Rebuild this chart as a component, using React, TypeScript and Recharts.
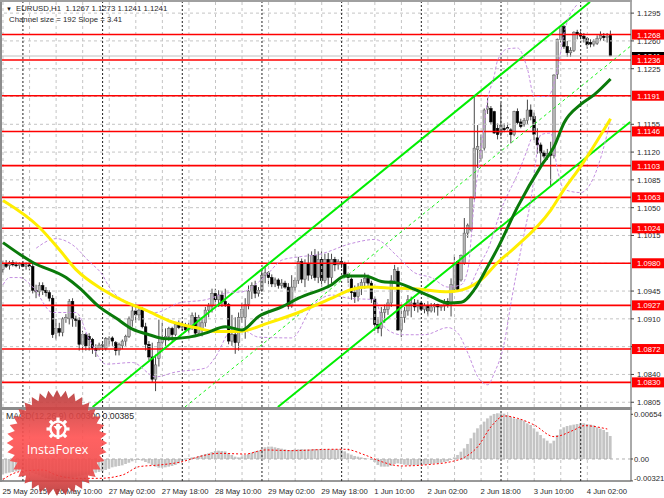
import React from "react";
import { ComposedChart, Bar, Line, XAxis, YAxis, ReferenceLine } from "recharts";

// Prices are in pips (1.1268 => 11268). Each bar: [open, high, low, close]
const barsA = [
[10972,10983,10968,10980],[10980,10984,10974,10976],[10977,10983,10972,10981],[10981,10984,10976,10978],[10978,10982,10975,10977],
[10977,10981,10973,10979],[10979,10982,10975,10976],[10976,10981,10972,10978],[10978,10982,10971,10976],[10976,10980,10942,10946],
[10946,10953,10936,10944],[10944,10956,10938,10952],[10952,10956,10940,10946],[10946,10950,10938,10943],[10943,10946,10932,10936],
[10936,10940,10886,10890],[10892,10910,10884,10898],[10898,10905,10888,10893],[10893,10912,10888,10910],[10910,10916,10905,10912],
[10910,10935,10903,10932],[10932,10936,10900,10910],[10910,10914,10900,10908],[10908,10912,10870,10878],[10878,10895,10868,10890],
[10890,10892,10870,10876],[10888,10892,10870,10884],[10884,10886,10866,10873],[10873,10878,10862,10870],[10872,10880,10870,10877],
[10874,10880,10872,10878],[10873,10887,10870,10885],[10885,10888,10876,10885],[10886,10888,10876,10882],[10880,10882,10864,10870],
[10870,10880,10864,10878],[10876,10884,10872,10882],[10882,10890,10876,10888],[10888,10913,10886,10910],[10908,10927,10900,10920],
[10920,10926,10905,10915],[10915,10925,10908,10921],[10922,10925,10898,10900],[10900,10905,10870,10878],[10878,10882,10858,10862],
[10862,10880,10830,10834],[10834,10865,10819,10852],[10860,10909,10850,10880],[10880,10905,10872,10884],[10884,10898,10876,10888],
];
const barsB = [
[10888,10900,10882,10898],[10898,10900,10880,10890],[10890,10906,10888,10903],[10903,10908,10897,10899],[10899,10906,10895,10902],
[10902,10905,10893,10896],[10896,10905,10892,10900],[10900,10918,10896,10914],[10912,10918,10888,10892],[10892,10915,10890,10912],
[10898,10912,10888,10905],[10905,10925,10900,10921],[10921,10930,10912,10926],[10926,10948,10918,10942],[10942,10948,10928,10934],
[10934,10946,10925,10940],[10940,10945,10925,10932],[10932,10948,10925,10928],[10928,10930,10878,10882],[10882,10915,10876,10890],
[10890,10912,10866,10880],[10880,10918,10870,10912],[10912,10930,10905,10922],[10912,10936,10885,10928],[10928,10952,10922,10945],
[10945,10956,10935,10952],[10952,10958,10936,10942],[10942,10950,10938,10946],[10946,10972,10944,10965],[10965,10975,10955,10968],
[10968,10970,10952,10962],[10962,10966,10950,10954],[10954,10962,10950,10959],[10959,10961,10948,10952],[10952,10960,10948,10955],
[10955,10958,10948,10950],[10950,10955,10922,10926],[10926,10965,10924,10950],[10950,10962,10945,10958],[10958,10988,10954,10982],
[10982,10986,10955,10960],[10960,10985,10950,10980],[10980,10992,10958,10965],[10965,10995,10960,10990],[10990,10998,10958,10962],
[10962,10995,10955,10985],[10985,10995,10950,10958],[10958,10992,10955,10985],[10985,10993,10950,10962],[10962,10992,10955,10985],
];
const barsC = [
[10985,10988,10970,10978],[10978,10985,10972,10982],[10982,10988,10974,10979],[10980,10982,10962,10966],[10966,10968,10955,10962],
[10960,10962,10934,10943],[10943,10952,10930,10938],[10938,10955,10932,10950],[10950,10960,10940,10956],[10956,10968,10948,10961],
[10961,10966,10950,10955],[10955,10958,10930,10935],[10935,10938,10895,10903],[10903,10912,10892,10898],[10898,10925,10888,10918],
[10918,10928,10905,10922],[10922,10935,10915,10930],[10930,10965,10925,10958],[10958,10978,10955,10972],[10970,10975,10895,10896],
[10896,10925,10887,10912],[10912,10925,10905,10920],[10920,10940,10914,10934],[10928,10938,10912,10930],[10930,10935,10920,10925],
[10925,10934,10918,10930],[10930,10932,10920,10922],[10922,10930,10917,10927],[10927,10932,10914,10920],[10920,10930,10918,10925],
[10925,10930,10918,10928],[10928,10929,10914,10925],[10925,10928,10920,10926],[10926,10935,10920,10932],[10932,10936,10924,10928],
[10928,10961,10913,10953],[10947,10991,10944,10980],[10982,10983,10945,10947],[10959,10991,10957,10990],[10980,11037,10978,11018],
[11018,11030,11012,11028],[11022,11064,11020,11063],[11062,11190,11060,11125],[11123,11154,11100,11127],[11112,11142,11108,11122],
[11125,11175,11122,11173],[11174,11188,11168,11177],[11175,11178,11155,11158],[11171,11172,11143,11144],[11150,11156,11136,11142],
];
const barsD = [
[11144,11182,11140,11154],[11150,11156,11145,11148],[11151,11157,11146,11150],[11148,11150,11131,11142],[11142,11172,11140,11171],
[11171,11175,11155,11157],[11158,11162,11150,11152],[11155,11163,11152,11160],[11160,11186,11155,11173],[11173,11180,11160,11165],
[11165,11170,11135,11142],[11138,11150,11118,11129],[11129,11132,11102,11119],[11119,11122,11112,11115],[11115,11124,11110,11118],
[11118,11133,11076,11116],[11116,11218,11112,11217],[11218,11263,11212,11262],[11262,11280,11258,11278],[11278,11280,11250,11253],
[11253,11260,11240,11245],[11245,11252,11240,11248],[11248,11272,11246,11271],[11271,11274,11262,11268],[11269,11272,11262,11266],
[11266,11270,11258,11263],[11263,11265,11250,11255],[11258,11262,11252,11256],[11256,11262,11253,11259],[11257,11267,11255,11263],
[11263,11272,11260,11267],[11266,11270,11260,11264],[11264,11270,11258,11266],[11267,11273,11241,11241],
];

// moving averages and envelopes: [bar index, price]
const yellowMA = [[0,11059],[11,11025],[17,10997],[22,10972],[30,10947],[37,10931],[43,10921],[51,10906],[58,10899],[64,10894],[71,10894],[80,10905],[89,10918],[99,10936],[105,10947],[110,10950],[116,10949],[124,10948],[134,10944],[140,10949],[144,10959],[149,10981],[154,10999],[165,11047],[169,11073],[174,11102],[183,11162]];
const greenMA = [[0,11006],[9,10981],[19,10962],[23,10949],[29,10925],[34,10911],[39,10897],[44,10890],[49,10885],[56,10887],[61,10892],[67,10900],[72,10896],[77,10913],[84,10925],[89,10936],[99,10953],[103,10964],[109,10964],[114,10957],[119,10955],[124,10947],[129,10938],[134,10930],[138,10931],[142,10947],[146,10976],[149,10999],[155,11051],[162,11102],[166,11127],[169,11157],[174,11180],[178,11192],[183,11212]];
const upperBand = [[10,10999],[16,11011],[21,11003],[26,10982],[30,10965],[32,10950],[39,10928],[46,10918],[53,10930],[61,10934],[68,10943],[72,10944],[80,10968],[84,10984],[89,10988],[95,10991],[105,11005],[112,11010],[119,10988],[124,10968],[129,10962],[134,10950],[138,10953],[140,10972],[142,11060],[144,11123],[146,11186],[148,11217],[149,11236],[152,11250],[155,11251],[158,11224],[160,11190],[164,11190],[167,11224],[169,11270],[173,11306]];
const lowerBand = [[0,10953],[2,10962],[5,10962],[9,10950],[15,10918],[22,10918],[26,10884],[31,10853],[39,10855],[46,10837],[52,10843],[61,10848],[64,10862],[69,10896],[72,10896],[77,10887],[87,10886],[93,10925],[99,10940],[104,10936],[112,10934],[115,10899],[120,10890],[127,10890],[134,10899],[137,10892],[140,10867],[143,10837],[146,10827],[148,10842],[151,10880],[153,10930],[156,10997],[159,11060],[162,11142],[165,11144],[167,11098],[169,11073],[174,11069],[178,11089],[181,11127],[183,11161]];
const midBand = [[141,10953],[144,10981],[146,10997],[150,11047],[156,11102],[159,11136]];

// channels: [bar, price, bar, price]
const channelUpper = [27, 10799, 176.8, 11309];
const channelLower = [82.8, 10799, 188.9, 11158];
const channelMid = [54.8, 10799, 188.9, 11253];

const levels = [11268, 11236, 11191, 11146, 11103, 11063, 11024, 10980, 10927, 10872, 10830];
const currentPrice = 11241;
const priceGrid = [11295, 11260, 11225, 11190, 11155, 11120, 11085, 11050, 11015, 10980, 10945, 10910, 10875, 10840, 10805];

// MACD histogram, units of 0.00001
const macdA = [-220,-210,-200,-190,-181,-171,-161,-171,-181,-200,-220,-239,-259,-278,-288,-298,-307,-307,-298,-288,-278,-268,-259,-249,-239,-229,-220,-210,-200,-190,-181,-161,-142,-122,-112,-102,-93,-73,-54,-34,-15,-15,-24,-44,-63,-88,-112,-127,-127,-122];
const macdB = [-112,-102,-88,-63,-24,-5,15,24,24,44,59,73,83,102,117,122,117,112,83,59,34,24,34,59,73,93,112,122,142,171,181,181,171,161,151,142,132,132,142,142,146,142,140,142,146,142,142,140,142,142];
const macdC = [142,142,132,112,83,63,44,34,24,15,5,-15,-44,-88,-112,-112,-112,-102,-73,-63,-73,-83,-93,-93,-88,-88,-83,-83,-78,-73,-63,-63,-54,-44,-34,-15,24,59,107,156,220,303,386,449,498,547,595,634,659,669];
const macdD = [669,664,644,620,595,586,581,561,522,498,449,400,351,303,268,229,268,351,434,464,483,493,503,512,522,522,512,503,493,464,444,425,395,337];
const signalLine = [[0,-298],[5,-185],[12,-161],[16,-234],[22,-283],[29,-283],[36,-234],[41,-112],[47,-88],[54,-39],[59,34],[65,83],[73,73],[79,132],[87,122],[99,142],[103,142],[109,59],[114,-39],[120,-102],[129,-78],[135,-39],[139,24],[143,181],[147,473],[151,630],[155,595],[160,498],[166,327],[172,425],[175,488],[182,439]];
const macdTicks = [654, 0, -321];

const xLabels = ["25 May 2015","26 May 10:00","27 May 02:00","27 May 18:00","28 May 10:00","29 May 02:00","29 May 18:00","1 Jun 10:00","2 Jun 02:00","2 Jun 18:00","3 Jun 10:00","4 Jun 02:00"];
const LABEL_STEP = 16, GRID_STEP = 8, DAY_STEP = 24, DAY_START = 6;

const allBars = [...barsA, ...barsB, ...barsC, ...barsD];
const macdAll = [...macdA, ...macdB, ...macdC, ...macdD];
const lookup = (pairs: number[][]) => new Map(pairs.map((p) => [p[0], p[1]]));
const yM = lookup(yellowMA), gM = lookup(greenMA), uB = lookup(upperBand), lB = lookup(lowerBand), mB = lookup(midBand), sL = lookup(signalLine);

const rows = allBars.map((b, i) => ({
  i, o: b[0], h: Math.max(...b), l: Math.min(...b), c: b[3],
  range: [Math.min(...b), Math.max(...b)],
  yellow: yM.get(i) ?? null, green: gM.get(i) ?? null, upper: uB.get(i) ?? null, lower: lB.get(i) ?? null, mid: mB.get(i) ?? null,
  macd: macdAll[i], signal: sL.get(i) ?? null,
}));

const xDomain: [number, number] = [-0.3, 189.15];
const gridLines = rows.map((r) => r.i).filter((i) => i % GRID_STEP === 0);
const dayLines = rows.map((r) => r.i).filter((i) => i >= DAY_START && (i - DAY_START) % DAY_STEP === 0);
const labelTicks = xLabels.map((_, k) => k * LABEL_STEP);
// prices whose scale label is fully covered by a level tag in the reference
const hiddenLabels = [11190, 10980];
const priceLabels = priceGrid.filter((v) => !hiddenLabels.includes(v));

const FONT = "'Liberation Sans', Arial, sans-serif";
const TXT = "#2a2a2a";
const AXIS_SIZE = 7.7;

function Candle(props: any) {
  const { x, y, width, height, payload } = props;
  const { o, c, h, l } = payload;
  const span = h - l || 1;
  const py = (v: number) => y + ((h - v) / span) * height;
  const top = py(Math.max(o, c));
  const bot = py(Math.min(o, c));
  const up = c >= o;
  const cx = x + width / 2;
  return (
    <g>
      <line x1={cx} x2={cx} y1={y} y2={y + height} stroke="#333" strokeWidth={0.9} />
      <rect x={x + 0.2} y={top} width={width - 0.4} height={Math.max(bot - top, 1)}
        fill={up ? "#b4b4b4" : "#000"} stroke={up ? "#5c5c5c" : "#000"} strokeWidth={0.5} />
    </g>
  );
}

function PriceTick(props: any) {
  const { y, payload } = props;
  const v = payload.value;
  const text = (v / 10000).toFixed(4);
  if (levels.includes(v)) {
    return (
      <g>
        <rect x={632} y={y - 5} width={32} height={10} fill="#ff0000" />
        <text x={637} y={y + 3} fontFamily={FONT} fontSize={AXIS_SIZE} fill="#fff">{text}</text>
      </g>
    );
  }
  if (v === currentPrice) {
    return (
      <g>
        <rect x={632} y={y - 4} width={32} height={9} fill="#000" />
        <text x={637} y={y + 3} fontFamily={FONT} fontSize={AXIS_SIZE} fill="#fff">{text}</text>
      </g>
    );
  }
  return (
    <g>
      <line x1={631} x2={634} y1={y} y2={y} stroke="#444" />
      <text x={637} y={y + 3} fontFamily={FONT} fontSize={AXIS_SIZE} fill={TXT}>{text}</text>
    </g>
  );
}

function MacdTick(props: any) {
  const { y, payload } = props;
  const v = payload.value;
  const text = v === 0 ? "0.00" : (v / 100000).toFixed(5);
  const yy = v < 0 ? y - 3 : y;
  return (
    <g>
      <line x1={631} x2={633} y1={y} y2={y} stroke="#444" />
      <text x={634} y={yy + 3} fontFamily={FONT} fontSize={AXIS_SIZE} fill={TXT}>{text}</text>
    </g>
  );
}

function TimeTick(props: any) {
  const { x, y, payload } = props;
  const k = payload.value / LABEL_STEP;
  return (
    <g>
      <text x={x - 0.5} y={y + 5} fontFamily={FONT} fontSize={AXIS_SIZE} fill={TXT}>{xLabels[k]}</text>
    </g>
  );
}

const gridStroke = "#c4c4c4";
const dashGrid = "3 3";

function Watermark() {
  const cx = 57, cy = 443, n = 36, ro = 53, ri = 46;
  const pts: string[] = [];
  for (let k = 0; k < n * 2; k++) {
    const r = k % 2 === 0 ? ro : ri;
    const a = (Math.PI * k) / n - Math.PI / 2;
    pts.push(`${(cx + r * Math.cos(a) * 0.95).toFixed(1)},${(cy + r * Math.sin(a)).toFixed(1)}`);
  }
  const gx = 58, gy = 429;
  const teeth = [];
  for (let k = 0; k < 8; k++) {
    const a = (k * 360) / 8;
    if (k === 4) continue;
    teeth.push(<rect key={k} x={gx - 1.6} y={gy - 11.5} width={3.2} height={3.5} fill="#fff" transform={`rotate(${a} ${gx} ${gy})`} />);
  }
  return (
    <svg width={664} height={498} style={{ position: "absolute", left: 0, top: 0, pointerEvents: "none" }}>
      <defs>
        <linearGradient id="wm" x1="0" y1="0" x2="0" y2="1">
          <stop offset="0" stopColor="#b53a3a" />
          <stop offset="0.45" stopColor="#ff5050" />
          <stop offset="0.75" stopColor="#f04a4a" />
          <stop offset="1" stopColor="#b53434" />
        </linearGradient>
      </defs>
      <polygon points={pts.join(" ")} fill="url(#wm)" opacity={0.9} />
      <circle cx={gx} cy={gy} r={7.5} fill="none" stroke="#fff" strokeWidth={2.4} />
      {teeth}
      <path d={`M${gx - 4.5} ${gy - 3} L${gx - 1.4} ${gy + 1} L${gx - 1.4} ${gy + 10} L${gx + 1.4} ${gy + 10} L${gx + 1.4} ${gy + 1} L${gx + 4.5} ${gy - 3}`} fill="#fff" />
      <circle cx={gx} cy={gy - 3.5} r={2} fill="#fff" />
      <text x={cx + 0.5} y={454} textAnchor="middle" fontFamily="'Open Sans', sans-serif" fontSize={12.6} fill="#fff">InstaForex</text>
    </svg>
  );
}

export default function App() {
  return (
    <div style={{ position: "absolute", left: 0, top: 0, width: 664, height: 498, background: "#fff", overflow: "hidden" }}>
      <div style={{ position: "absolute", top: 0, left: 0 }}>
        <ComposedChart width={664} height={408} data={rows} margin={{ top: 2, right: 0, bottom: 1, left: 2 }}>
          <XAxis type="number" dataKey="i" domain={xDomain} allowDataOverflow hide />
          <YAxis orientation="right" width={33} domain={[10799, 11309]} allowDataOverflow
            ticks={[...priceLabels, currentPrice, ...levels]} interval={0} tick={<PriceTick />} tickLine={false} axisLine={{ stroke: "#555" }} />
          {priceGrid.map((v) => <ReferenceLine key={"h" + v} y={v} stroke={gridStroke} strokeDasharray={dashGrid} />)}
          {gridLines.map((v) => <ReferenceLine key={"v" + v} x={v} stroke={gridStroke} strokeDasharray={dashGrid} />)}
          {dayLines.map((v) => <ReferenceLine key={"d" + v} x={v} stroke="#222" strokeDasharray="2 2" />)}
          <ReferenceLine y={currentPrice} stroke="#c0c0c0" />
          {levels.map((v) => <ReferenceLine key={"l" + v} y={v} stroke="#ff0000" strokeWidth={1.6} />)}
          <ReferenceLine segment={[{ x: channelMid[0], y: channelMid[1] }, { x: channelMid[2], y: channelMid[3] }]} stroke="#00f000" strokeDasharray="3 3" strokeWidth={0.9} ifOverflow="visible" />
          <Bar dataKey="range" barSize={3} shape={<Candle />} isAnimationActive={false} />
          <ReferenceLine segment={[{ x: channelUpper[0], y: channelUpper[1] }, { x: channelUpper[2], y: channelUpper[3] }]} stroke="#00ee00" strokeWidth={2} ifOverflow="visible" />
          <ReferenceLine segment={[{ x: channelLower[0], y: channelLower[1] }, { x: channelLower[2], y: channelLower[3] }]} stroke="#00ee00" strokeWidth={2} ifOverflow="visible" />
          <Line dataKey="upper" type="monotone" connectNulls dot={false} stroke="#c48fe0" strokeWidth={1} strokeDasharray="3 2" isAnimationActive={false} />
          <Line dataKey="lower" type="monotone" connectNulls dot={false} stroke="#c48fe0" strokeWidth={1} strokeDasharray="3 2" isAnimationActive={false} />
          <Line dataKey="mid" type="monotone" connectNulls dot={false} stroke="#c48fe0" strokeWidth={1} strokeDasharray="3 2" isAnimationActive={false} />
          <Line dataKey="yellow" type="monotone" connectNulls dot={false} stroke="#ffee00" strokeWidth={3} isAnimationActive={false} />
          <Line dataKey="green" type="monotone" connectNulls dot={false} stroke="#0a7a0a" strokeWidth={3} isAnimationActive={false} />
        </ComposedChart>
      </div>
      <div style={{ position: "absolute", top: 410, left: 0 }}>
        <ComposedChart width={664} height={88} data={rows} margin={{ top: 0, right: 0, bottom: 0, left: 2 }}>
          <XAxis type="number" dataKey="i" domain={xDomain} allowDataOverflow height={17} ticks={labelTicks} interval={0}
            tick={<TimeTick />} tickLine={false} axisLine={{ stroke: "#333" }} />
          <YAxis orientation="right" width={33} domain={[-322, 717]} allowDataOverflow
            ticks={macdTicks} interval={0} tick={<MacdTick />} tickLine={false} axisLine={{ stroke: "#555" }} />
          {gridLines.map((v) => <ReferenceLine key={"v" + v} x={v} stroke={gridStroke} strokeDasharray={dashGrid} />)}
          {dayLines.map((v) => <ReferenceLine key={"d" + v} x={v} stroke="#222" strokeDasharray="2 2" />)}
          <Bar dataKey="macd" barSize={2.7} fill="#c4c4c4" isAnimationActive={false} />
          <ReferenceLine y={0} stroke="#b0b0b0" strokeDasharray={dashGrid} />
          <Line dataKey="signal" type="monotone" connectNulls dot={false} stroke="#ff0000" strokeWidth={1} strokeDasharray="2 2" isAnimationActive={false} />
        </ComposedChart>
      </div>
      {/* frame */}
      <div style={{ position: "absolute", left: 0, top: 0, width: 2, height: 482, background: "#8c8c8c" }} />
      <div style={{ position: "absolute", left: 0, top: 0, width: 632, height: 2, background: "#a0a0a0" }} />
      <div style={{ position: "absolute", left: 0, top: 407, width: 632, height: 3, background: "#8c8c8c" }} />
      <div style={{ position: "absolute", left: 6, top: 4, fontFamily: FONT, fontSize: 6, color: "#111", lineHeight: "10px" }}>▼</div>
      <div style={{ position: "absolute", left: 16, top: 4, fontFamily: FONT, fontSize: 7.8, color: TXT, whiteSpace: "pre", lineHeight: "10px" }}>
        {"EURUSD,H1  1.1267 1.1273 1.1241 1.1241"}
      </div>
      <div style={{ position: "absolute", left: 9, top: 15, fontFamily: FONT, fontSize: 7.8, color: TXT, whiteSpace: "pre", lineHeight: "10px" }}>
        Channel size = 192 Slope = 3.41
      </div>
      <div style={{ position: "absolute", left: 6, top: 411, fontFamily: FONT, fontSize: 8.7, color: TXT, whiteSpace: "pre", lineHeight: "10px" }}>
        MACD(12,26,9) 0.00300 0.00385
      </div>
      <Watermark />
    </div>
  );
}
